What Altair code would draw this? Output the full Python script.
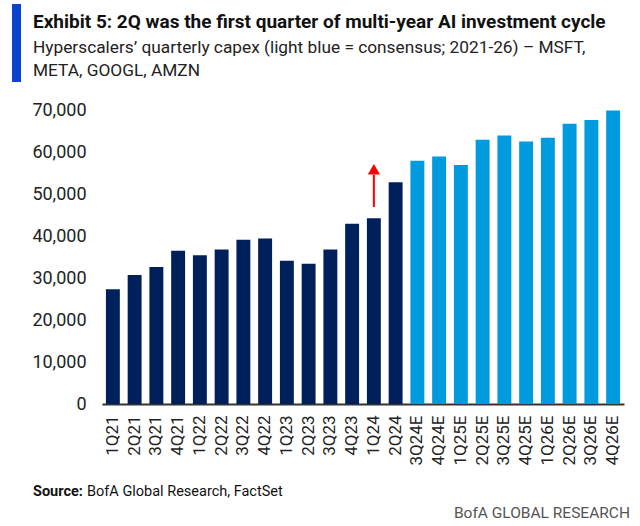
import altair as alt
import pandas as pd

quarters = ["1Q21", "2Q21", "3Q21", "4Q21", "1Q22", "2Q22", "3Q22", "4Q22",
            "1Q23", "2Q23", "3Q23", "4Q23", "1Q24", "2Q24",
            "3Q24E", "4Q24E", "1Q25E", "2Q25E", "3Q25E", "4Q25E",
            "1Q26E", "2Q26E", "3Q26E", "4Q26E"]
capex = [27300, 30700, 32600, 36500, 35400, 36800, 39100, 39400,
         34100, 33400, 36800, 42900, 44200, 52800,
         57900, 58900, 56900, 62900, 63900, 62500,
         63400, 66700, 67600, 69900]
kind = ["Actual"] * 14 + ["Consensus"] * 10

arrow_quarter = ["1Q24"]
arrow_start = [46900]
arrow_end = [54600]
arrow_head = [55900]

title_text = "Exhibit 5: 2Q was the first quarter of multi-year AI investment cycle"
subtitle_lines = ["Hyperscalers\u2019 quarterly capex (light blue = consensus; 2021-26) \u2013 MSFT,",
                  "META, GOOGL, AMZN"]
source_label = "Source:"
source_text = "BofA Global Research, FactSet"
brand_text = "BofA GLOBAL RESEARCH"

FONT = "Roboto"
W, H = 522, 294

df = pd.DataFrame({"quarter": quarters, "capex": capex, "kind": kind})
arrow_df = pd.DataFrame({"quarter": arrow_quarter, "y1": arrow_start,
                         "y2": arrow_end, "head": arrow_head})

xenc = alt.X("quarter:N", sort=quarters, title=None,
             scale=alt.Scale(paddingInner=0.36, paddingOuter=0.18),
             axis=alt.Axis(labelAngle=270, labelFont=FONT, labelFontSize=17,
                           labelColor="#222222", ticks=False, domainColor="#333333",
                           domainWidth=2, labelPadding=11))
yscale = alt.Scale(domain=[0, 70000], nice=False)

bars = alt.Chart(df).mark_bar().encode(
    x=xenc,
    y=alt.Y("capex:Q", scale=yscale, title=None,
            axis=alt.Axis(values=list(range(0, 70001, 10000)), format=",.0f",
                          labelFont=FONT, labelFontSize=18, labelColor="#222222",
                          ticks=False, domain=False, grid=False, labelPadding=16)),
    color=alt.Color("kind:N", legend=None,
                    scale=alt.Scale(domain=["Actual", "Consensus"],
                                    range=["#00205B", "#009ADE"])),
)

arrow_shaft = alt.Chart(arrow_df).mark_rule(color="#FF0000", strokeWidth=2).encode(
    x=alt.X("quarter:N", sort=quarters),
    y=alt.Y("y1:Q", scale=yscale),
    y2="y2:Q",
)
arrow_tip = alt.Chart(arrow_df).mark_point(shape="triangle-up", filled=True, opacity=1,
                                            color="#FF0000", size=150).encode(
    x=alt.X("quarter:N", sort=quarters),
    y=alt.Y("head:Q", scale=yscale),
)

def txt(text, x, y, size, weight="normal", color="#111111", align="left"):
    return alt.Chart(pd.DataFrame({"t": [text]})).mark_text(
        font=FONT, fontSize=size, fontWeight=weight, color=color,
        align=align, baseline="alphabetic").encode(
        text="t:N", x=alt.value(x), y=alt.value(y))

accent = alt.Chart(pd.DataFrame({"a": [0]})).mark_rule(
    color="#0A44CC", strokeWidth=9, strokeCap="butt").encode(
    x=alt.value(-85.5), y=alt.value(-106), y2=alt.value(-28))

layers = [
    bars, arrow_shaft, arrow_tip, accent,
    txt(title_text, -69, -82, 19, "bold"),
    txt(subtitle_lines[0], -69, -57, 17.3, color="#222222"),
    txt(subtitle_lines[1], -69, -34, 17.3, color="#222222"),
    txt(source_label, -69, 386, 14.5, "bold"),
    txt(source_text, -15, 386, 14.5),
    txt(brand_text, 528, 408, 15.5, color="#555555", align="right"),
]

chart = alt.layer(*layers).properties(
    width=W, height=H,
    autosize=alt.AutoSizeParams(type="none"),
    padding={"left": 102, "top": 110, "right": 16, "bottom": 122},
    background="white",
).configure_view(stroke=None)

chart.save("out.html", embed_options={"renderer": "svg", "actions": False})
